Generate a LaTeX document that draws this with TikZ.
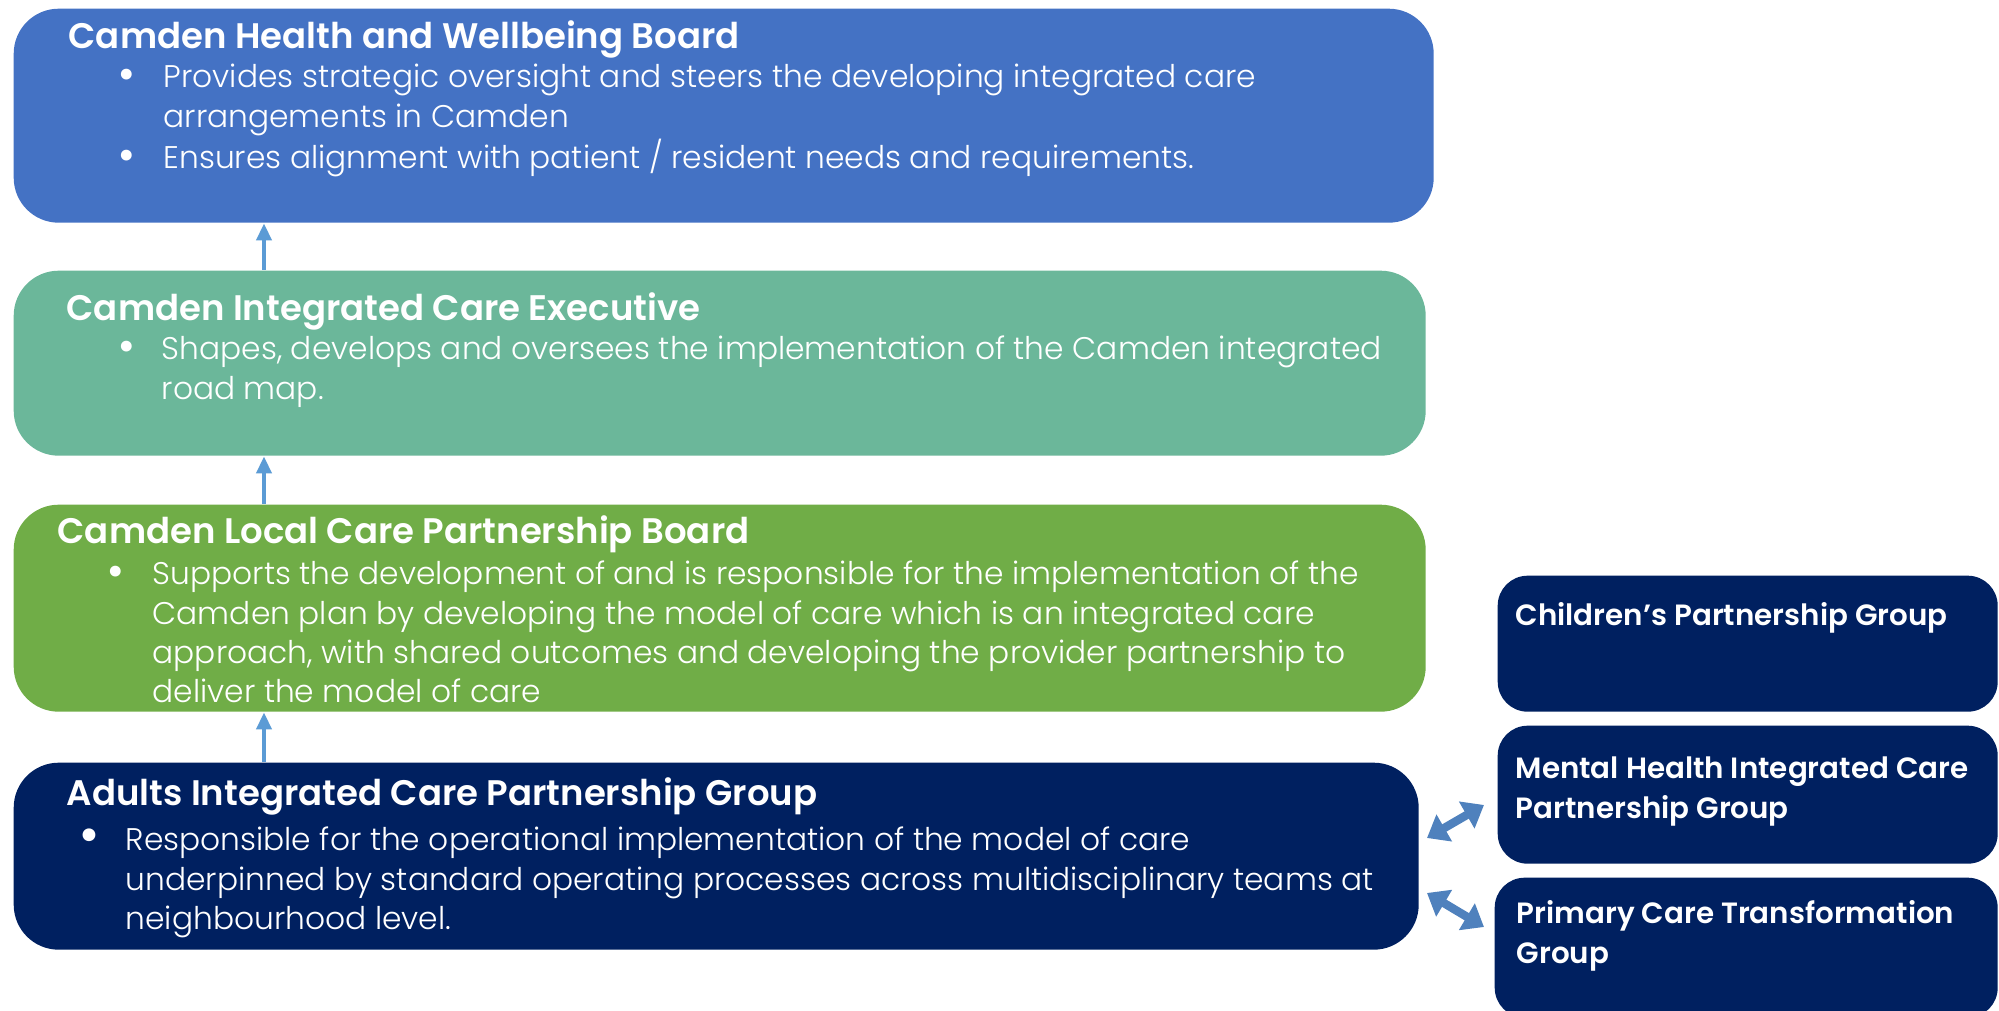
\documentclass[tikz,border=0pt]{standalone}
\usepackage{fontspec}
\setmainfont{Poppins}[UprightFont={* Light},BoldFont={* SemiBold}]
\usetikzlibrary{arrows.meta,positioning}

\definecolor{hwbblue}{HTML}{4472C4}
\definecolor{iceteal}{HTML}{6BB79A}
\definecolor{lcpgreen}{HTML}{70AD47}
\definecolor{groupnavy}{HTML}{002060}
\definecolor{arrowblue}{HTML}{5B9BD5}
\definecolor{linkblue}{HTML}{4F81BD}

\newcommand\bodyfont{\fontsize{8.9}{11.1}\selectfont}
\newcommand\titlefont{\fontsize{10.1}{12}\selectfont\bfseries}
\newcommand\groupfont{\fontsize{8.35}{11.1}\selectfont\bfseries}
\newcommand\blt{{\fontsize{11}{11}\selectfont\bfseries\textbullet}}
\newcommand\bigblt{{\fontsize{13}{13}\selectfont\bfseries\textbullet}}

\tikzset{
  board/.style={rectangle, rounded corners=0.45cm, anchor=north west, inner sep=0pt},
  group/.style={rectangle, rounded corners=0.3cm, fill=groupnavy, anchor=north west,
                minimum width=5cm, inner sep=0pt},
  boardtitle/.style={anchor=base west, inner sep=0pt, text=white, font=\titlefont},
  boardtext/.style={anchor=base west, inner sep=0pt, text=white, font=\bodyfont},
  grouptext/.style={anchor=base west, inner sep=0pt, text=white, font=\groupfont},
  uparrow/.style={draw=arrowblue, line width=1.1pt, -{Triangle[length=0.17cm,width=0.15cm]}},
  linkarrow/.style={draw=linkblue, line width=2.4pt,
                    {Triangle[length=0.2cm,width=0.3cm]}-{Triangle[length=0.2cm,width=0.3cm]}}
}

\begin{document}
\begin{tikzpicture}[x=1cm,y=-1cm]

  \useasboundingbox (0,0) rectangle (19.99,10.11);

  % Boards
  \node[board, fill=hwbblue,   minimum width=14.20cm, minimum height=2.14cm] (hwb)  at (0.13,0.08) {};
  \node[board, fill=iceteal,   minimum width=14.12cm, minimum height=1.85cm] (ice)  at (0.13,2.70) {};
  \node[board, fill=lcpgreen,  minimum width=14.12cm, minimum height=2.07cm] (lcp)  at (0.13,5.04) {};
  \node[board, fill=groupnavy, minimum width=14.05cm, minimum height=1.87cm] (aicp) at (0.13,7.62) {};

  % Groups
  \node[group, minimum height=1.36cm] (cpg) at (14.97,5.75) {};
  \node[group, minimum height=1.38cm] (mhg) at (14.97,7.25) {};
  \node[group, minimum height=1.40cm, minimum width=5.03cm] (pcg) at (14.94,8.77) {};

  % Arrows
  \coordinate (arrx) at (2.64,0);
  \draw[uparrow] (ice.north  -| arrx) -- (hwb.south -| arrx);
  \draw[uparrow] (lcp.north  -| arrx) -- (ice.south -| arrx);
  \draw[uparrow] (aicp.north -| arrx) -- (lcp.south -| arrx);

  \coordinate (mhl) at (14.27,8.38);
  \coordinate (mhr) at (14.84,8.05);
  \coordinate (pcl) at (14.27,8.93);
  \coordinate (pcr) at (14.84,9.27);
  \draw[linkarrow] (mhl) -- (mhr);
  \draw[linkarrow] (pcl) -- (pcr);

  % Board texts
  \node[boardtitle] (hwbtitle) at (0.68,0.49) {Camden Health and Wellbeing Board};
  \node[boardtext] (hwbtext) at (1.17,0.88) {\begin{tabular}[t]{@{}p{0.46cm}@{}l@{}}
    \blt & Provides strategic oversight and steers the developing integrated care\\
         & arrangements in Camden\\
    \blt & Ensures alignment with patient / resident needs and requirements.
  \end{tabular}};

  \node[boardtitle] (icetitle) at (0.66,3.21) {Camden Integrated Care Executive};
  \node[boardtext] (icetext) at (1.17,3.60) {\begin{tabular}[t]{@{}p{0.44cm}@{}l@{}}
    \blt & Shapes, develops and oversees the implementation of the Camden integrated\\
         & road map.
  \end{tabular}};

  \node[boardtitle] (lcptitle) at (0.57,5.44) {Camden Local Care Partnership Board};
  \node[boardtext] (lcptext) at (1.06,5.85) {\begin{tabular}[t]{@{}p{0.46cm}@{}l@{}}
    \blt & Supports the development of and is responsible for the implementation of the\\
         & Camden plan by developing the model of care which is an integrated care\\
         & approach, with shared outcomes and developing the provider partnership to\\
         & deliver the model of care
  \end{tabular}};

  \node[boardtitle] (aicptitle) at (0.66,8.06) {Adults Integrated Care Partnership Group};
  \node[boardtext] (aicptext) at (0.78,8.51) {\begin{tabular}[t]{@{}p{0.47cm}@{}l@{}}
    \bigblt & Responsible for the operational implementation of the model of care\\
            & underpinned by standard operating processes across multidisciplinary teams at\\
            & neighbourhood level.
  \end{tabular}};

  % Group texts
  \node[grouptext] (cpgtext) at (15.15,6.26) {Children’s Partnership Group};
  \node[grouptext] (mhgtext) at (15.15,7.79) {\begin{tabular}[t]{@{}l@{}}
    Mental Health Integrated Care\\ Partnership Group\end{tabular}};
  \node[grouptext] (pcgtext) at (15.16,9.24) {\begin{tabular}[t]{@{}l@{}}
    Primary Care Transformation\\ Group\end{tabular}};

\end{tikzpicture}
\end{document}
